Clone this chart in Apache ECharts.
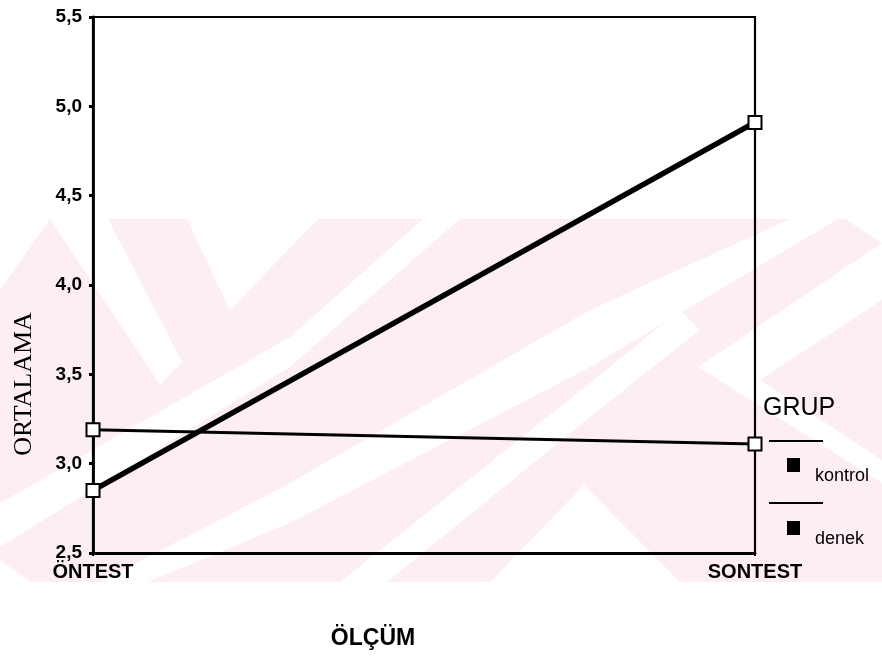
<!DOCTYPE html>
<html>
<head>
<meta charset="utf-8">
<script src="https://cdn.jsdelivr.net/npm/echarts@6/dist/echarts.min.js"></script>
<style>html,body{margin:0;padding:0;background:#fff}#c{width:882px;height:659px}</style>
</head>
<body>
<div id="c"></div>
<script>
const categories = ['ÖNTEST', 'SONTEST'];
const kontrol = [3.19, 3.11];
const denek = [2.85, 4.91];
const seriesNames = ['kontrol', 'denek'];
const yTicks = { min: 2.5, max: 5.5, interval: 0.5 };
const legendTitle = 'GRUP';
const xName = 'ÖLÇÜM';
const yName = 'ORTALAMA';

const chart = echarts.init(document.getElementById('c'), null, { renderer: 'canvas' });

const pink = '#fdeef1';
const wm = [
  { type: 'rect', shape: { x: 0, y: 219, width: 882, height: 363 }, style: { fill: pink } },
  { type: 'polygon', shape: { points: [[0,219],[50,219],[0,290]] }, style: { fill: '#fff' } },
  { type: 'polygon', shape: { points: [[50,219],[108,219],[182,362],[160,385]] }, style: { fill: '#fff' } },
  { type: 'polygon', shape: { points: [[187,219],[318,219],[230,310]] }, style: { fill: '#fff' } },
  { type: 'polygon', shape: { points: [[423,219],[460,219],[290,367],[0,547],[0,503],[290,337]] }, style: { fill: '#fff' } },
  { type: 'polygon', shape: { points: [[100,582],[148,582],[290,523],[590,367],[838,219],[790,219],[590,310],[290,483]] }, style: { fill: '#fff' } },
  { type: 'polygon', shape: { points: [[340,582],[387,582],[590,417],[700,330],[680,310],[590,383]] }, style: { fill: '#fff' } },
  { type: 'polygon', shape: { points: [[490,582],[680,582],[584,485]] }, style: { fill: '#fff' } },
  { type: 'polygon', shape: { points: [[698,367],[882,243],[882,300],[760,380],[882,460],[882,483]] }, style: { fill: '#fff' } },
  { type: 'polygon', shape: { points: [[845,219],[882,219],[882,243]] }, style: { fill: '#fff' } },
  { type: 'polygon', shape: { points: [[0,582],[0,560],[30,582]] }, style: { fill: '#fff' } }
].map(e => Object.assign(e, { z: -10, silent: true }));

const font = 'Liberation Sans, Arial, sans-serif';

function legendFor(name, top) {
  return {
    orient: 'vertical', left: 782, top: top,
    icon: 'rect', itemWidth: 13, itemHeight: 14,
    itemStyle: { color: '#000', borderWidth: 0 },
    formatter: '{a|{name}}',
    textStyle: { color: '#000', fontSize: 18, fontFamily: font,
      rich: { a: { fontSize: 18, fontFamily: font, color: '#000', padding: [22, 0, 0, 10] } } },
    data: [name]
  };
}

const option = {
  backgroundColor: '#fff',
  animation: false,
  grid: { left: 93, right: 127, top: 17, bottom: 106, show: true, borderColor: '#000', borderWidth: 2.2, backgroundColor: 'transparent' },
  xAxis: {
    type: 'category', data: categories, boundaryGap: false,
    axisLine: { lineStyle: { color: '#000', width: 2.8 } },
    axisTick: { show: true, length: 3, lineStyle: { color: '#000', width: 2 } },
    axisLabel: { color: '#000', fontSize: 20, fontWeight: 'bold', fontFamily: font, margin: 9 },
    splitLine: { show: false }
  },
  yAxis: {
    type: 'value', min: yTicks.min, max: yTicks.max, interval: yTicks.interval,
    axisLine: { show: true, lineStyle: { color: '#000', width: 2.8 } },
    axisTick: { show: true, length: 4, lineStyle: { color: '#000', width: 3 } },
    axisLabel: { color: '#000', fontSize: 19, fontWeight: 'bold', fontFamily: font, margin: 11,
      formatter: v => v.toFixed(1).replace('.', ',') },
    splitLine: { show: false }
  },
  legend: [legendFor(seriesNames[0], 453), legendFor(seriesNames[1], 516)],
  series: [
    { name: seriesNames[0], type: 'line', data: kontrol, symbol: 'rect', symbolSize: 13,
      lineStyle: { color: '#000', width: 3 },
      itemStyle: { color: '#fff', borderColor: '#000', borderWidth: 2 }, z: 3 },
    { name: seriesNames[1], type: 'line', data: denek, symbol: 'rect', symbolSize: 13,
      lineStyle: { color: '#000', width: 5.5 },
      itemStyle: { color: '#fff', borderColor: '#000', borderWidth: 2 }, z: 3 }
  ],
  graphic: wm.concat([
    { type: 'text', x: 763, y: 408, style: { text: legendTitle, fontSize: 25, fontFamily: font, fill: '#000', verticalAlign: 'middle' } },
    { type: 'line', shape: { x1: 769, y1: 441, x2: 823, y2: 441 }, style: { stroke: '#000', lineWidth: 2 } },
    { type: 'line', shape: { x1: 769, y1: 503, x2: 823, y2: 503 }, style: { stroke: '#000', lineWidth: 2 } },
    { type: 'text', x: 373, y: 639, style: { text: xName, fontSize: 23, fontWeight: 'bold', fontFamily: font, fill: '#000', align: 'center', verticalAlign: 'middle' } },
    { type: 'text', x: 24, y: 384, rotation: Math.PI / 2, style: { text: yName, fontSize: 26, fontFamily: 'Liberation Serif, Times New Roman, serif', fill: '#000', align: 'center', verticalAlign: 'middle' } }
  ])
};
chart.setOption(option);
</script>
</body>
</html>
